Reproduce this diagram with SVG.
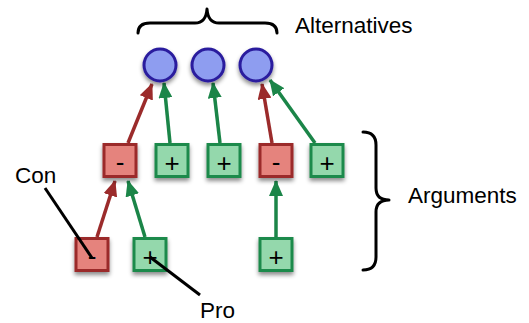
<svg xmlns="http://www.w3.org/2000/svg" width="529" height="323" viewBox="0 0 529 323">
<defs>
<filter id="sh" x="-30%" y="-30%" width="160%" height="170%">
<feDropShadow dx="0" dy="3" stdDeviation="2" flood-color="#000" flood-opacity="0.45"/>
</filter>
<marker id="ar" markerUnits="userSpaceOnUse" markerWidth="16" markerHeight="14" viewBox="0 0 16 14" refX="15" refY="7" orient="auto">
<path d="M0,0 L16,7 L0,14 Z" fill="#9B2B2B"/>
</marker>
<marker id="ag" markerUnits="userSpaceOnUse" markerWidth="16" markerHeight="14" viewBox="0 0 16 14" refX="15" refY="7" orient="auto">
<path d="M0,0 L16,7 L0,14 Z" fill="#1B8548"/>
</marker>
</defs>
<style>
.alt{fill:#8E9DF0;stroke:#2B1E9E;stroke-width:3;filter:url(#sh)}
.con{fill:#E5837D;stroke:#9B2B2B;stroke-width:3;filter:url(#sh)}
.pro{fill:#94D8AC;stroke:#1F8A4C;stroke-width:3;filter:url(#sh)}
.sign{font-family:"Liberation Sans",Arial,sans-serif;font-size:26px;fill:#000;text-anchor:middle}
.lbl{font-family:"Liberation Sans",Arial,sans-serif;font-size:22.5px;fill:#000}
.er{stroke:#9B2B2B;stroke-width:3.5;fill:none;marker-end:url(#ar)}
.eg{stroke:#1B8548;stroke-width:3.5;fill:none;marker-end:url(#ag)}
.br{stroke:#000;stroke-width:3;fill:none;stroke-linecap:round;stroke-linejoin:round}
.pt{stroke:#000;stroke-width:3;fill:none}
</style>

<g id="connectors">
<line class="er" x1="128" y1="143" x2="152" y2="84"/>
<line class="eg" x1="170" y1="143" x2="164" y2="83"/>
<line class="eg" x1="220" y1="143" x2="213" y2="83"/>
<line class="er" x1="272" y1="143" x2="262" y2="84"/>
<line class="eg" x1="315" y1="143" x2="270" y2="80"/>
<line class="er" x1="97" y1="237" x2="115" y2="181"/>
<line class="eg" x1="145" y1="237" x2="128" y2="181"/>
<line class="eg" x1="276" y1="237" x2="276" y2="181"/>
</g>

<g id="alt1"><circle class="alt" cx="160" cy="65" r="16"/></g>
<g id="alt2"><circle class="alt" cx="208" cy="65" r="16"/></g>
<g id="alt3"><circle class="alt" cx="256" cy="65" r="16"/></g>

<g id="arg1"><rect class="con" x="104" y="144.5" width="32" height="32"/><text class="sign" x="120" y="171">-</text></g>
<g id="arg2"><rect class="pro" x="156" y="144.5" width="32" height="32"/><text class="sign" x="172" y="172">+</text></g>
<g id="arg3"><rect class="pro" x="208" y="144.5" width="32" height="32"/><text class="sign" x="224" y="172">+</text></g>
<g id="arg4"><rect class="con" x="260" y="144.5" width="32" height="32"/><text class="sign" x="276" y="171">-</text></g>
<g id="arg5"><rect class="pro" x="311" y="144.5" width="32" height="32"/><text class="sign" x="327" y="172">+</text></g>
<g id="arg6"><rect class="con" x="76" y="238.5" width="32" height="32"/><text class="sign" x="92" y="265">-</text></g>
<g id="arg7"><rect class="pro" x="134" y="238.5" width="32" height="32"/><text class="sign" x="150" y="266">+</text></g>
<g id="arg8"><rect class="pro" x="260" y="238.5" width="32" height="32"/><text class="sign" x="276" y="266">+</text></g>

<g id="alternatives-brace">
<path class="br" d="M138,33 Q138,23 150,23 L195,23 Q206,23 207,9 Q208,23 219,23 L265,23 Q277,23 277,33"/>
<text class="lbl" x="295" y="33">Alternatives</text>
</g>
<g id="arguments-brace">
<path class="br" d="M363,132 Q376,132 376,145 L376,188 Q376,200 389,200 Q376,200 376,212 L376,257 Q376,270 363,270"/>
<text class="lbl" x="408" y="203">Arguments</text>
</g>
<g id="con-label">
<text class="lbl" x="15" y="183">Con</text>
<line class="pt" x1="45" y1="188" x2="92" y2="258"/>
</g>
<g id="pro-label">
<text class="lbl" x="200" y="318">Pro</text>
<line class="pt" x1="150" y1="257" x2="200" y2="295"/>
</g>
</svg>
